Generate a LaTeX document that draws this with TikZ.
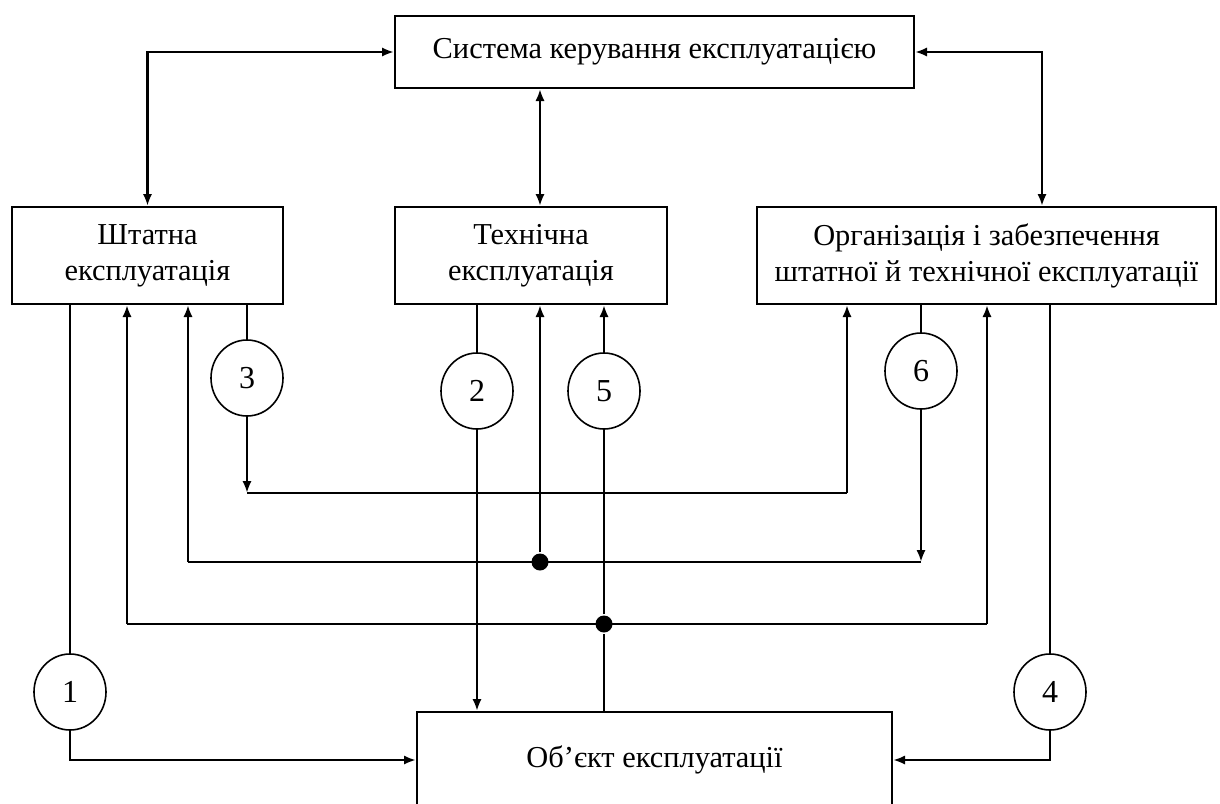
\documentclass[tikz,border=0pt]{standalone}
\usepackage{fontspec}
\setmainfont{Liberation Serif}
\usetikzlibrary{arrows.meta}
\usetikzlibrary{shapes.geometric}

\begin{document}
\begin{tikzpicture}[
            x = 0.5pt, y = -0.5pt, % one unit = one pixel of the grid
            > = {Latex[length=6pt,width=4.6pt]}, % arrow head style
            line width = 1.2pt, % line style
            font = \fontsize{15.2}{18}\selectfont
        ]

        \tikzstyle{block}=[
            draw,
            line width = 1pt,
            align = center,
            inner sep = 0pt
        ]
        \tikzstyle{num}=[draw, ellipse, line width=0.8pt, minimum width=36pt, minimum height=38pt, inner sep=0pt, font=\fontsize{16}{18}\selectfont]
        \tikzstyle{dot}=[circle, fill, inner sep=0pt, minimum size=8.5pt]

        \path[use as bounding box] (0,0) rectangle (1220,803);
        \clip (0,0) rectangle (1220,803);

        % blocks
        \node[block, minimum width=259.5pt, minimum height=36pt] (sys) at (654.5,52) {Система керування експлуатацією};
        \node[block, minimum width=135.5pt, minimum height=48.5pt] (shtat) at (147.5,255.5) {Штатна\\експлуатація};
        \node[block, minimum width=136pt, minimum height=48.5pt] (tech) at (531,255.5) {Технічна\\експлуатація};
        \node[block, minimum width=229.5pt, minimum height=48.5pt] (org) at (986.5,255.5) {Організація і забезпечення\\штатної й технічної експлуатації};
        \node[block, minimum width=237.5pt, minimum height=48pt] (obj) at (654.5,760) {Об’єкт експлуатації};

        % numbered links
        \node[num] (c1) at (70,692) {1};
        \node[num] (c2) at (477,391) {2};
        \node[num] (c3) at (247,378) {3};
        \node[num] (c4) at (1050,692) {4};
        \node[num] (c5) at (604,391) {5};
        \node[num] (c6) at (921,371) {6};

        % bus corners and junctions
        \coordinate (b3w) at (247,493);
        \coordinate (b3e) at (847,493);
        \coordinate (b6w) at (188,562);
        \coordinate (b6e) at (921,562);
        \coordinate (b5w) at (127,624);
        \coordinate (b5e) at (987,624);
        \coordinate (tl) at (540,0);
        \coordinate (tr) at (1042,52);
        \node[dot] (d1) at (540,562) {};
        \node[dot] (d2) at (604,624) {};

        % control level
        \draw[<->] (shtat.north) |- (sys.west);
        \draw[<->] (sys.south -| tl) -- (tech.north -| tl);
        \draw[<->] (sys.east) -- (tr) -- (org.north -| tr);

        % 1 and 4
        \draw (shtat.south -| c1) -- (c1);
        \draw[->] (c1) |- (obj.west);
        \draw (org.south -| c4) -- (c4);
        \draw[->] (c4) |- (obj.east);

        % 2 and 5
        \draw (tech.south -| c2) -- (c2);
        \draw[->] (c2) -- (obj.north -| c2);
        \draw (obj.north -| c5) -- (d2) -- (c5);
        \draw[->] (c5) -- (tech.south -| c5);

        % 3
        \draw (shtat.south -| c3) -- (c3);
        \draw[->] (c3) -- (b3w);
        \draw (b3w) -- (b3e);
        \draw[->] (b3e) -- (org.south -| b3e);

        % 6
        \draw (org.south -| c6) -- (c6);
        \draw[->] (c6) -- (b6e);
        \draw (b6e) -- (b6w);
        \draw[->] (b6w) -- (shtat.south -| b6w);
        \draw[->] (d1) -- (tech.south -| d1);

        % feedback from the object
        \draw (b5w) -- (b5e);
        \draw[->] (b5w) -- (shtat.south -| b5w);
        \draw[->] (b5e) -- (org.south -| b5e);

\end{tikzpicture}
\end{document}
